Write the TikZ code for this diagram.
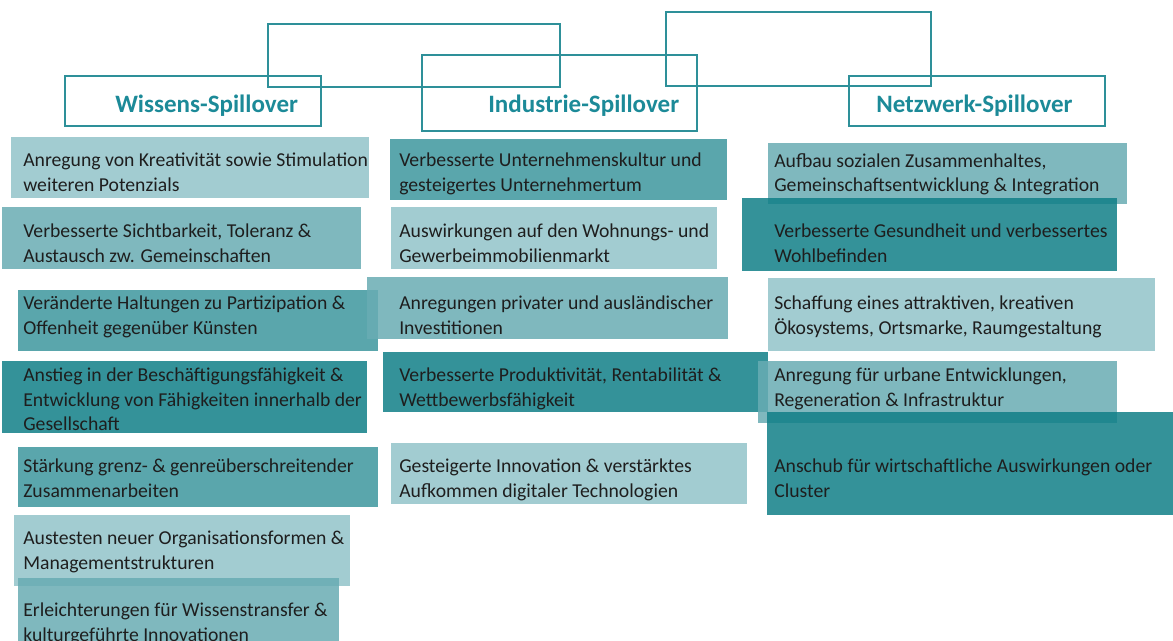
\documentclass[tikz,border=0pt]{standalone}
\usepackage{fontspec}
\setmainfont{Carlito}
\usepackage{tikz}
\usetikzlibrary{positioning}

\definecolor{tealline}{RGB}{46,144,153}
\definecolor{tealhead}{RGB}{28,138,152}
\definecolor{celltext}{RGB}{30,30,30}
% cell fills, drawn with fill opacity
\definecolor{celllight}{RGB}{146,195,201}
\definecolor{cellmid}{RGB}{104,172,179}
\definecolor{celldeep}{RGB}{61,150,157}
\definecolor{celldark}{RGB}{16,127,135}

\begin{document}
\begin{tikzpicture}[x=0.025cm,y=-0.025cm,
    frame/.style={draw=tealline,line width=1pt},
    head/.style={anchor=base west,inner sep=0pt,text=tealhead,
      font=\fontsize{17.8}{21}\selectfont\bfseries},
    cell/.style={fill=#1,fill opacity=0.85},
    txt/.style={anchor=north west,inner sep=0pt,align=left,text=celltext,
      font=\fontsize{14}{17.4}\selectfont,execute at begin node=\strut}]
    \useasboundingbox (0,0) rectangle (1173,640);
    \clip (0,0) rectangle (1173,640);

    % linking frames over the headings
    \draw[frame] (268,24) rectangle (560,87);
    \draw[frame] (666,12) rectangle (931,86);

    % headings
    \draw[frame] (65,76) rectangle (321,126);
    \draw[frame] (422,55) rectangle (697,131);
    \draw[frame] (849,76) rectangle (1105,126);
    \node[head] (wissens) at (115,112) {Wissens-Spillover};
    \node[head] (industrie) at (488,112) {Industrie-Spillover};
    \node[head] (netzwerk) at (876,112) {Netzwerk-Spillover};

    % left column
    \fill[cell=celllight] (11,137) rectangle (369,198);
    \fill[cell=cellmid] (2,207) rectangle (361,269);
    \fill[cell=celldeep] (18,290) rectangle (378,351);
    \fill[cell=celldark] (2,361) rectangle (367,433);
    \fill[cell=celldeep] (18,447) rectangle (378,507);
    \fill[cell=celllight] (14,515) rectangle (350,586);
    \fill[cell=cellmid] (18,578) rectangle (339,650);

    % middle column
    \fill[cell=celldeep] (390,139) rectangle (727,200);
    \fill[cell=celllight] (391,207) rectangle (717,269);
    \fill[cell=cellmid] (367,277) rectangle (728,339);
    \fill[cell=celldark] (383,352) rectangle (768,412);
    \fill[cell=celllight] (391,443) rectangle (747,504);

    % right column
    \fill[cell=cellmid] (768,143) rectangle (1127,204);
    \fill[cell=celldark] (742,198) rectangle (1117,271);
    \fill[cell=celllight] (768,278) rectangle (1155,351);
    \fill[cell=cellmid] (758,361) rectangle (1117,423);
    \fill[cell=celldark] (767,412) rectangle (1180,515);

    \node[txt] (w1) at (23,153) {Anregung von Kreativität sowie Stimulation\\weiteren Potenzials};
    \node[txt] (w2) at (23,224) {Verbesserte Sichtbarkeit, Toleranz \&\\Austausch zw. Gemeinschaften};
    \node[txt] (w3) at (23,296) {Veränderte Haltungen zu Partizipation \&\\Offenheit gegenüber Künsten};
    \node[txt] (w4) at (23,368) {Anstieg in der Beschäftigungsfähigkeit \&\\Entwicklung von Fähigkeiten innerhalb der\\Gesellschaft};
    \node[txt] (w5) at (23,459) {Stärkung grenz- \& genreüberschreitender\\Zusammenarbeiten};
    \node[txt] (w6) at (23,531) {Austesten neuer Organisationsformen \&\\Managementstrukturen};
    \node[txt] (w7) at (23,603) {Erleichterungen für Wissenstransfer \&\\kulturgeführte Innovationen};

    \node[txt] (i1) at (399,153) {Verbesserte Unternehmenskultur und\\gesteigertes Unternehmertum};
    \node[txt] (i2) at (399,224) {Auswirkungen auf den Wohnungs- und\\Gewerbeimmobilienmarkt};
    \node[txt] (i3) at (399,296) {Anregungen privater und ausländischer\\Investitionen};
    \node[txt] (i4) at (399,368) {Verbesserte Produktivität, Rentabilität \&\\Wettbewerbsfähigkeit};
    \node[txt] (i5) at (399,459) {Gesteigerte Innovation \& verstärktes\\Aufkommen digitaler Technologien};

    \node[txt] (n1) at (774,153) {Aufbau sozialen Zusammenhaltes,\\Gemeinschaftsentwicklung \& Integration};
    \node[txt] (n2) at (774,224) {Verbesserte Gesundheit und verbessertes\\Wohlbefinden};
    \node[txt] (n3) at (774,296) {Schaffung eines attraktiven, kreativen\\Ökosystems, Ortsmarke, Raumgestaltung};
    \node[txt] (n4) at (774,368) {Anregung für urbane Entwicklungen,\\Regeneration \& Infrastruktur};
    \node[txt] (n5) at (774,459) {Anschub für wirtschaftliche Auswirkungen oder\\Cluster};
\end{tikzpicture}
\end{document}
